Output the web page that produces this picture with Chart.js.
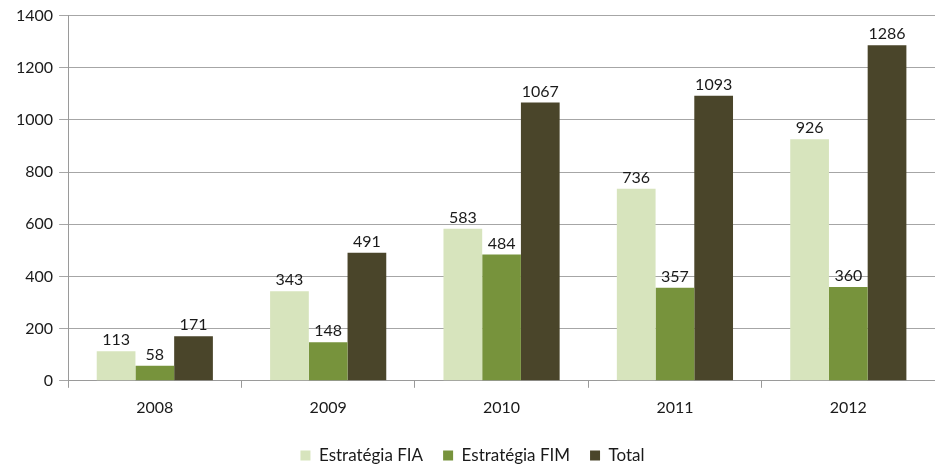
<!DOCTYPE html>
<html>
<head>
<meta charset="utf-8">
<script src="https://cdn.jsdelivr.net/npm/chart.js@4/dist/chart.umd.min.js"></script>
<style>
  html, body { margin: 0; padding: 0; background: #fff; }
  #wrap { width: 935px; height: 466px; }
</style>
</head>
<body>
<div id="wrap"><canvas id="chart"></canvas></div>
<script>
const years = ["2008", "2009", "2010", "2011", "2012"];
const fia = [113, 343, 583, 736, 926];
const fim = [58, 148, 484, 357, 360];
const total = [171, 491, 1067, 1093, 1286];
const yTicks = [0, 200, 400, 600, 800, 1000, 1200, 1400];

const fontFamily = "Lato, 'Open Sans', sans-serif";

// draw the value above every bar
const valueLabels = {
    id: 'valueLabels',
    afterDatasetsDraw(chart) {
        const ctx = chart.ctx;
        ctx.save();
        ctx.font = "16px " + fontFamily;
        ctx.fillStyle = '#1a1a1a';
        ctx.textAlign = 'center';
        ctx.textBaseline = 'bottom';
        chart.data.datasets.forEach((ds, i) => {
            chart.getDatasetMeta(i).data.forEach((bar, j) => {
                ctx.fillText(ds.data[j], bar.x, bar.y - 3);
            });
        });
        ctx.restore();
    }
};

new Chart(document.getElementById('chart'), {
    type: 'bar',
    data: {
        labels: years,
        datasets: [
            { label: 'Estratégia FIA', data: fia, backgroundColor: '#d7e4bd' },
            { label: 'Estratégia FIM', data: fim, backgroundColor: '#77933c' },
            { label: 'Total', data: total, backgroundColor: '#4a452a' }
        ]
    },
    options: {
        responsive: true,
        maintainAspectRatio: false,
        animation: false,
        layout: { padding: { top: 13, right: 0, left: 10, bottom: -8 } },
        datasets: { bar: { categoryPercentage: 0.67, barPercentage: 1.0 } },
        plugins: {
            legend: {
                position: 'bottom',
                labels: {
                    boxWidth: 10, boxHeight: 10, padding: 20,
                    color: '#1a1a1a',
                    font: { family: fontFamily, size: 17 }
                }
            },
            tooltip: { enabled: false }
        },
        scales: {
            x: {
                grid: { display: true, drawOnChartArea: false, offset: true, tickLength: 7, color: '#9a9a9a' },
                border: { color: '#9a9a9a' },
                ticks: { color: '#1a1a1a', padding: 10, font: { family: fontFamily, size: 16 } }
            },
            y: {
                min: 0, max: 1400,
                afterBuildTicks: axis => { axis.ticks = yTicks.map(v => ({ value: v })); },
                grid: { color: '#a6a6a6', tickLength: 9 },
                border: { color: '#9a9a9a' },
                ticks: {
                    color: '#1a1a1a', padding: 6,
                    font: { family: fontFamily, size: 16 },
                    callback: v => String(v)
                }
            }
        }
    },
    plugins: [valueLabels]
});
</script>
</body>
</html>
